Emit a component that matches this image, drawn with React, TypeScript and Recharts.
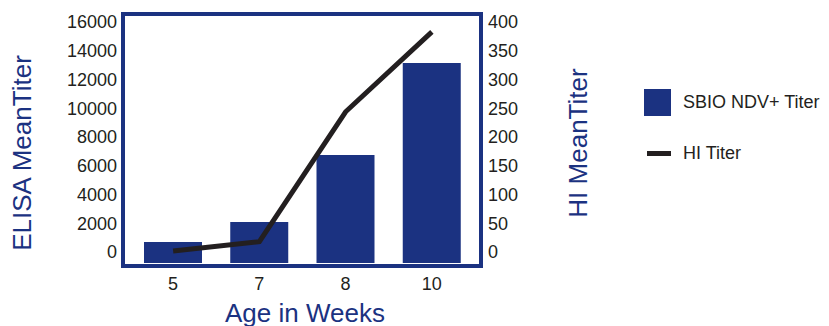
import { Bar, ComposedChart, Line, XAxis, YAxis } from "recharts";

const weeks = ["5", "7", "8", "10"];
const elisaTiter = [1460, 2850, 7510, 13910];
const hiTiter = [21, 37, 263, 402];
const elisaTicks = [0, 2000, 4000, 6000, 8000, 10000, 12000, 14000, 16000];
const hiTicks = [0, 50, 100, 150, 200, 250, 300, 350, 400];
const seriesNames = ["SBIO NDV+ Titer", "HI Titer"];

const BLUE = "#1b3281";
const INK = "#231f20";
const FONT = "'Liberation Sans', Arial, sans-serif";

const data = weeks.map((w, i) => ({ week: w, elisa: elisaTiter[i], hi: hiTiter[i] }));

// tick labels sit a bit above their gridline in the original
function SideTick({ x, y, payload, anchor }: any) {
  return (
    <text x={x} y={y - 11} dy="0.355em" textAnchor={anchor} fill={INK} fontSize={18} fontFamily={FONT}>
      {payload.value}
    </text>
  );
}

function AxisTitle({ viewBox, title, offX, offY, turn }: any) {
  const cx = viewBox.x + offX;
  const cy = viewBox.y + offY;
  return (
    <text
      x={cx}
      y={cy}
      transform={turn ? `rotate(-90 ${cx} ${cy})` : undefined}
      textAnchor="middle"
      dominantBaseline="central"
      fill={BLUE}
      fontSize={26}
      fontFamily={FONT}
    >
      {title}
    </text>
  );
}

export default function App() {
  return (
    <div style={{ position: "absolute", left: 0, top: 0, width: 829, height: 326, background: "#fff" }}>
      <ComposedChart
        width={829}
        height={326}
        data={data}
        margin={{ top: 17, right: 291, bottom: 0, left: 0 }}
      >
        <XAxis
          dataKey="week"
          height={63}
          padding={{ left: 4, right: 3 }}
          axisLine={false}
          tickLine={false}
          tickSize={0}
          tickMargin={14}
          tick={{ fill: INK, fontSize: 18, fontFamily: FONT }}
          label={<AxisTitle title="Age in Weeks" offX={179} offY={50} />}
        />
        <YAxis
          yAxisId="elisa"
          width={126}
          domain={[0, 17113]}
          ticks={elisaTicks}
          axisLine={false}
          tickLine={false}
          tickSize={0}
          tickMargin={9}
          tick={<SideTick anchor="end" />}
          label={<AxisTitle title="ELISA MeanTiter" offX={22} offY={136} turn />}
        />
        <YAxis
          yAxisId="hi"
          orientation="right"
          width={60}
          domain={[0, 427.8]}
          ticks={hiTicks}
          axisLine={false}
          tickLine={false}
          tickSize={0}
          tickMargin={10}
          tick={<SideTick anchor="start" />}
          label={<AxisTitle title="HI MeanTiter" offX={100} offY={126} turn />}
        />
        <Bar yAxisId="elisa" dataKey="elisa" name={seriesNames[0]} fill={BLUE} barSize={58} isAnimationActive={false} />
        <Line
          yAxisId="hi"
          dataKey="hi"
          name={seriesNames[1]}
          type="linear"
          stroke={INK}
          strokeWidth={5}
          dot={false}
          isAnimationActive={false}
        />
      </ComposedChart>
      <div
        style={{
          position: "absolute",
          left: 121,
          top: 12,
          width: 362,
          height: 256,
          border: `4.5px solid ${BLUE}`,
          boxSizing: "border-box",
          pointerEvents: "none",
        }}
      />
      <div style={{ position: "absolute", left: 644, top: 89, fontFamily: FONT, fontSize: 18, color: INK }}>
        <div style={{ display: "flex", alignItems: "center", height: 27 }}>
          <span style={{ display: "inline-block", width: 27, height: 27, background: BLUE, marginRight: 12 }} />
          {seriesNames[0]}
        </div>
        <div style={{ display: "flex", alignItems: "center", height: 10, marginTop: 32 }}>
          <span style={{ display: "inline-block", width: 24, height: 5, background: INK, marginLeft: 3, marginRight: 12 }} />
          {seriesNames[1]}
        </div>
      </div>
    </div>
  );
}
